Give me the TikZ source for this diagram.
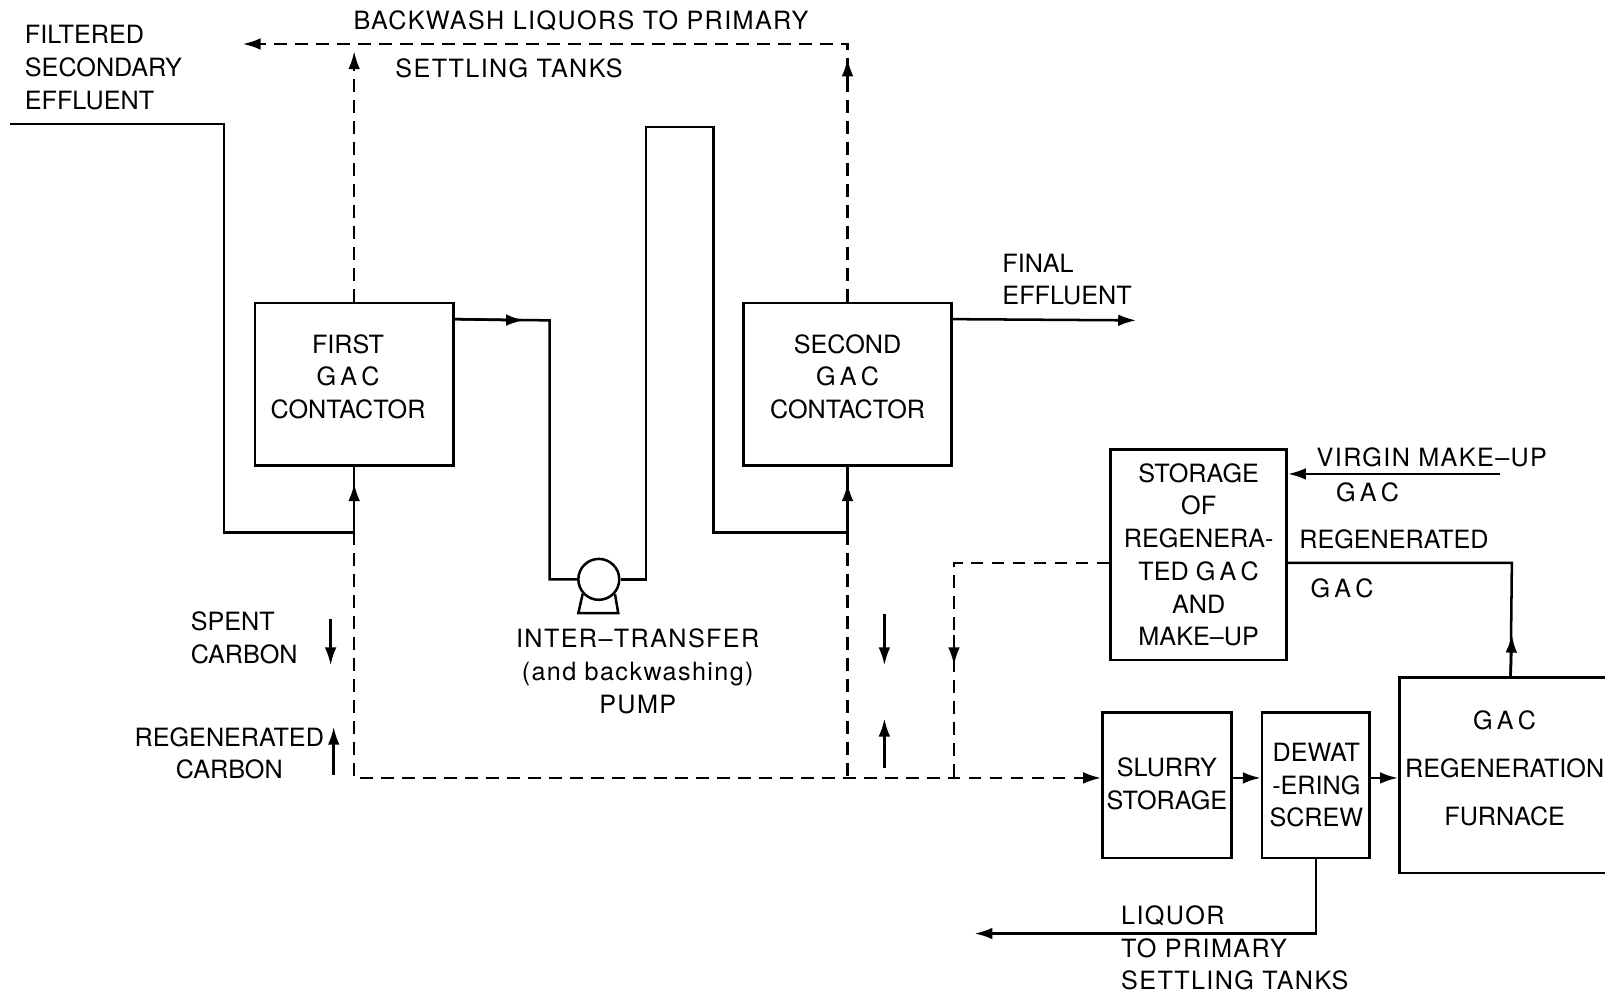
\documentclass[tikz,border=0pt]{standalone}
\usepackage{fontspec}
\setmainfont{TeX Gyre Heros}
\usetikzlibrary{arrows.meta,calc}
\newcommand{\gac}{G\,A\,C}
\newcommand{\wide}{\addfontfeature{LetterSpace=5.5}}
\begin{document}
\begin{tikzpicture}[x=0.02cm,y=-0.02cm,
  pipe/.style={line width=1.4pt},
  dsh/.style={line width=1.4pt, dash pattern=on 0.25cm off 0.16cm},
  arr/.style={-{Latex[length=10pt,width=6.5pt]}},
  box/.style={draw, line width=1.4pt, rectangle, inner sep=0pt},
  lbl/.style={font=\fontsize{14}{18.2}\selectfont, inner sep=0pt},
  wlbl/.style={font=\fontsize{14}{18.2}\selectfont\wide, inner sep=0pt},
]
\useasboundingbox (0,0) rectangle (1568,973);

% boxes
\node[box, minimum width=3.88cm, minimum height=3.18cm] (c1) at (346,375.5) {};
\node[box, minimum width=4.06cm, minimum height=3.18cm] (c2) at (828,375.5) {};
\node[box, minimum width=3.44cm, minimum height=4.12cm] (st) at (1171,542) {};
\node[box, minimum width=2.52cm, minimum height=2.84cm] (sl) at (1140,767) {};
\node[box, minimum width=2.10cm, minimum height=2.84cm] (dw) at (1285.5,767) {};
\node[box, minimum width=4.80cm, minimum height=3.82cm] (fu) at (1487,757.5) {};
\node[draw, circle, line width=1.4pt, minimum size=0.8cm, inner sep=0pt] (pump) at (585,566) {};
\draw[pipe] (pump.-138) -- (565,599) -- (604,599) -- (pump.-42);

% box texts
\node[lbl, align=center] (t1) at (340,368) {FIRST\\\gac\\CONTACTOR};
\node[lbl, align=center] (t2) at (828,368) {SECOND\\\gac\\CONTACTOR};
\node[lbl, align=center] (t3) at (1171,542) {STORAGE\\OF\\REGENERA-\\TED \gac\\AND\\MAKE–UP};
\node[lbl, align=center] (t4) at (1140,766) {SLURRY\\STORAGE};
\node[lbl, align=center] (t5) at (1286,767) {DEWAT\\-ERING\\SCREW};
\node[lbl, align=center] (t6) at (1470,751) {\gac\\[8.5pt]REGENERATION\\[8.5pt]FURNACE};

% free labels
\node[lbl, align=left, anchor=west] (l1) at (24,66) {FILTERED\\SECONDARY\\EFFLUENT};
\node[wlbl, anchor=west] (l2) at (345,20) {BACKWASH LIQUORS TO PRIMARY};
\node[wlbl, anchor=west] (l3) at (386,67) {SETTLING TANKS};
\node[lbl, align=left, anchor=west] (l4) at (979,273) {FINAL\\EFFLUENT};
\node[wlbl, align=center] (l5) at (623,656) {INTER–TRANSFER\\(and backwashing)\\PUMP};
\node[lbl, align=left, anchor=west] (l6) at (186,623) {SPENT\\CARBON};
\node[lbl, align=center] (l7) at (224,736) {REGENERATED\\CARBON};
\node[wlbl, anchor=west] (l8) at (1286,447) {VIRGIN MAKE–UP};
\node[lbl, anchor=west] (l9) at (1305,481) {\gac};
\node[lbl, anchor=west] (l10) at (1269,527) {REGENERATED};
\node[lbl, anchor=west] (l11) at (1280,575) {\gac};
\node[wlbl, align=left, anchor=west] (l12) at (1095,926) {LIQUOR\\TO PRIMARY\\SETTLING TANKS};

% coordinates
\coordinate (fin) at (10,121);
\coordinate (j1) at (346,520);
\coordinate (j2) at (828,520);
\coordinate (o1) at ($(c1.north east)+(0,17)$);
\coordinate (o2) at ($(c2.north east)+(0,17)$);
\coordinate (fe) at (1110,313);
\coordinate (bw) at (237,43);
\coordinate (y760) at (0,760);
\coordinate (y550) at (0,550);
\coordinate (vg) at (1465,463);
\coordinate (fr) at ($(fu.north west)+(110,0)$);
\coordinate (lq) at (952,912);

% solid flow lines
\draw[pipe] (fin) -- (219,121) -- (219,520) -- (j1) -- (c1.south);
\draw[pipe,arr] (j1) -- (346,472);
\draw[pipe] (o1) -- (537,313) -- (537,566) -- (pump.west);
\draw[pipe,arr] (o1) -- (512,313);
\draw[pipe] (pump.east) -- (631,566) -- (631,124) -- (697,124) -- (697,520) -- (j2) -- (c2.south);
\draw[pipe,arr] (j2) -- (828,472);
\draw[pipe,arr] (o2) -- (fe);

% dashed backwash
\draw[dsh,arr] (c1.north) -- (346,50);
\draw[dsh,arr] (c2.north) -- (828,43) -- (bw);
\draw[pipe,arr] (828,80) -- (828,57);

% dashed carbon transfer
\draw[dsh,arr] (j1) -- (346,760) -- (sl.west |- y760);
\draw[dsh] (j2) -- (828,760);
\draw[dsh] (st.west |- y550) -| (932,760);
\draw[pipe,arr] (932,620) -- (932,650);

% small carbon arrows
\draw[pipe,arr] (323,605) -- (323,650);
\draw[pipe,arr] (326,757) -- (326,710);
\draw[pipe,arr] (864,600) -- (864,650);
\draw[pipe,arr] (864,750) -- (864,702);

% regeneration loop
\draw[pipe,arr] (vg) -- (st.east |- vg);
\draw[pipe] (fr) -- (1477,550) -- (st.east |- y550);
\draw[pipe,arr] (fr) -- (1477,620);
\draw[pipe,arr] (sl.east |- y760) -- (dw.west |- y760);
\draw[pipe,arr] (dw.east |- y760) -- (fu.west |- y760);
\draw[pipe,arr] (dw.south) |- (lq);
\end{tikzpicture}
\end{document}
